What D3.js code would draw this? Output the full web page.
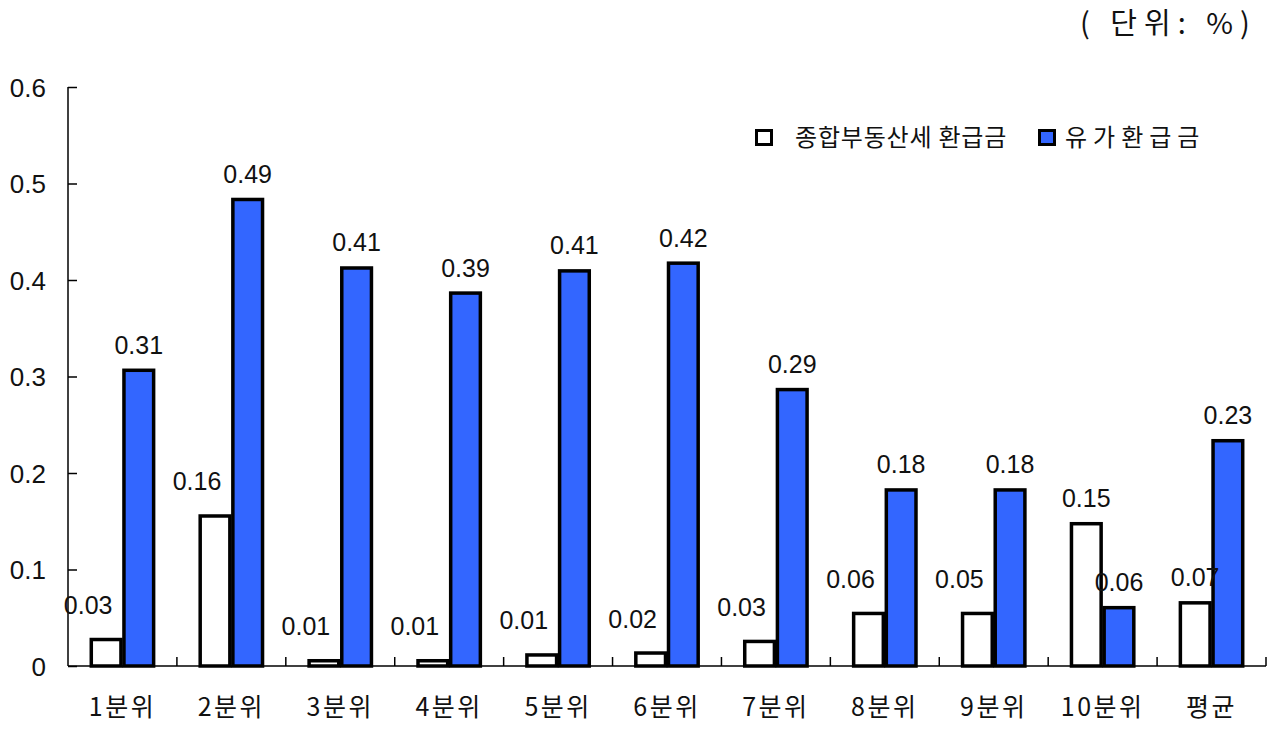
<!DOCTYPE html>
<html>
<head>
<meta charset="utf-8">
<script src="https://cdn.jsdelivr.net/npm/d3@7"></script>
<style>
  html, body { margin: 0; padding: 0; background: #fff; }
  svg { display: block; }
  text { font-family: "Liberation Sans", Arial, "Noto Sans CJK KR", sans-serif; fill: #111; }
  .kr { font-family: "Noto Sans CJK KR", "Liberation Sans", sans-serif; }
</style>
</head>
<body>
<svg id="chart" width="1288" height="735"></svg>
<script>
// ---- data ----
const categories = ["1분위", "2분위", "3분위", "4분위", "5분위", "6분위", "7분위", "8분위", "9분위", "10분위", "평균"];
const seriesNames = ["종합부동산세 환급금", "유가환급금"];
const comprehensiveTax = [0.029, 0.157, 0.007, 0.007, 0.013, 0.015, 0.027, 0.056, 0.056, 0.149, 0.067];
const comprehensiveLabels = ["0.03", "0.16", "0.01", "0.01", "0.01", "0.02", "0.03", "0.06", "0.05", "0.15", "0.07"];
const oilRefund = [0.308, 0.485, 0.414, 0.388, 0.411, 0.419, 0.288, 0.184, 0.184, 0.062, 0.235];
const oilLabels = ["0.31", "0.49", "0.41", "0.39", "0.41", "0.42", "0.29", "0.18", "0.18", "0.06", "0.23"];
const yTicks = [0, 0.1, 0.2, 0.3, 0.4, 0.5, 0.6];
const unitText = "( 단위:  %)";

(function () {
// ---- layout ----
const svg = d3.select("#chart");
const pLeft = 68, pRight = 1266, pTop = 87, pBottom = 666;
const colors = ["#ffffff", "#3366ff"];

const x0 = d3.scaleBand().domain(categories).range([pLeft, pRight]).padding(0);
const bw = x0.bandwidth();
const x1 = d3.scaleBand().domain(seriesNames).range([bw * 0.2, bw * 0.8]).padding(0);
const y = d3.scaleLinear().domain([0, 0.6]).range([pBottom, pTop]);

// unit label
svg.append("text").attr("class", "kr")
  .attr("x", 1080).attr("y", 34)
  .attr("font-size", 29)
  .attr("letter-spacing", 7)
  .attr("fill", "#222")
  .text(unitText);

// y axis
const yAxis = d3.axisRight(y).tickValues(yTicks).tickSize(9)
  .tickFormat(d => d === 0 ? "0" : d3.format(".1f")(d));
const yg = svg.append("g").attr("transform", `translate(${pLeft},0)`).call(yAxis);
yg.select(".domain").attr("stroke", "#000").attr("stroke-width", 1.5).attr("d", `M0,${pTop}V${pBottom}`);
yg.selectAll(".tick line").attr("stroke", "#000").attr("stroke-width", 1.5);
yg.selectAll(".tick text")
  .attr("x", -22).attr("dy", "0.36em")
  .attr("text-anchor", "end")
  .attr("font-size", 26)
  .attr("font-family", "'Liberation Sans', Arial, sans-serif")
  .attr("fill", "#222");

// x axis
const boundaries = categories.map(c => x0(c) + bw);
const xg = svg.append("g");
xg.append("line").attr("x1", pLeft).attr("x2", pRight).attr("y1", pBottom).attr("y2", pBottom)
  .attr("stroke", "#000").attr("stroke-width", 1.5);
xg.selectAll("line.tk").data(boundaries).join("line").attr("class", "tk")
  .attr("x1", d => d).attr("x2", d => d).attr("y1", pBottom).attr("y2", pBottom - 9)
  .attr("stroke", "#000").attr("stroke-width", 1.5);
xg.selectAll("text.cat").data(categories).join("text").attr("class", "cat kr")
  .attr("x", d => x0(d) + bw / 2).attr("y", 716)
  .attr("text-anchor", "middle")
  .attr("font-size", 25)
  .attr("letter-spacing", 2.5)
  .attr("fill", "#222")
  .text(d => d);

// bars
const seriesData = [comprehensiveTax, oilRefund];
const labelData = [comprehensiveLabels, oilLabels];
seriesNames.forEach((s, si) => {
  const g = svg.append("g");
  g.selectAll("rect").data(seriesData[si]).join("rect")
    .attr("x", (d, i) => x0(categories[i]) + x1(s) + 1.5)
    .attr("y", d => y(d) + 1.5)
    .attr("width", x1.bandwidth() - 3)
    .attr("height", d => Math.max(0, y(0) - y(d) - 1.5))
    .attr("fill", colors[si])
    .attr("stroke", "#000")
    .attr("stroke-width", 3.5);
});

// value labels
const labG = svg.append("g");
seriesNames.forEach((s, si) => {
  seriesData[si].forEach((v, i) => {
    const bx = x0(categories[i]) + x1(s);
    const shifted = si === 0 && i < 9;
    labG.append("text")
      .attr("x", shifted ? bx + x1.bandwidth() - 10 : bx + x1.bandwidth() / 2)
      .attr("y", y(v) - (shifted ? 24 : 15))
      .attr("text-anchor", shifted ? "end" : "middle")
      .attr("font-size", 25)
      .attr("fill", "#222")
      .text(labelData[si][i]);
  });
});

// legend
const legend = svg.append("g");
const legendItems = [
  { name: seriesNames[0], color: colors[0], bx: 755, tx: 795, ls: 0.8 },
  { name: seriesNames[1], color: colors[1], bx: 1038, tx: 1065, ls: 6 }
];
legend.selectAll("rect").data(legendItems).join("rect")
  .attr("x", d => d.bx + 1.5).attr("y", 130.5)
  .attr("width", 15).attr("height", 14)
  .attr("fill", d => d.color).attr("stroke", "#000").attr("stroke-width", 3);
legend.selectAll("text").data(legendItems).join("text").attr("class", "kr")
  .attr("x", d => d.tx).attr("y", 146)
  .attr("font-size", 24)
  .attr("letter-spacing", d => d.ls)
  .attr("fill", "#222")
  .text(d => d.name);
})();
</script>
</body>
</html>
